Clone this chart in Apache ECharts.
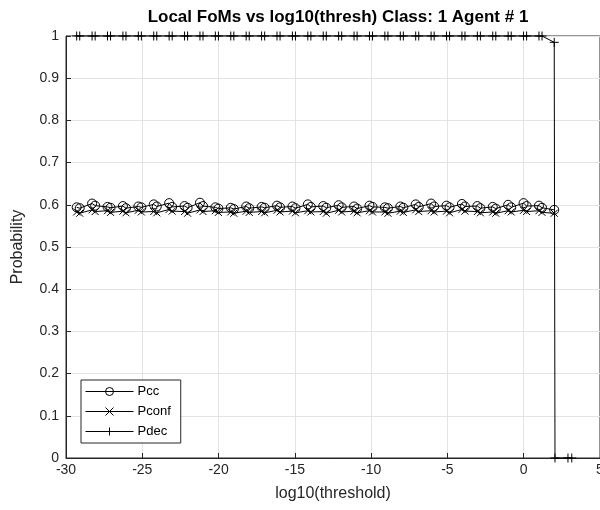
<!DOCTYPE html>
<html>
<head>
<meta charset="utf-8">
<script src="https://cdn.jsdelivr.net/npm/echarts@6/dist/echarts.min.js"></script>
<style>html,body{margin:0;padding:0;background:#fff}#c{width:600px;height:510px}</style>
</head>
<body>
<div id="c"></div>
<script>
var xVals = [-29.3,-29.1,-28.29,-28.09,-27.28,-27.08,-26.27,-26.07,-25.26,-25.06,
  -24.25,-24.05,-23.24,-23.04,-22.23,-22.03,-21.22,-21.02,-20.21,-20.01,
  -19.2,-19.0,-18.19,-17.99,-17.18,-16.98,-16.17,-15.97,-15.16,-14.96,
  -14.15,-13.95,-13.14,-12.94,-12.13,-11.93,-11.12,-10.92,-10.11,-9.91,
  -9.1,-8.9,-8.09,-7.89,-7.08,-6.88,-6.07,-5.87,-5.06,-4.86,
  -4.05,-3.85,-3.04,-2.84,-2.03,-1.83,-1.02,-0.82,-0.01,0.19,
  1.0,1.2,2.0];
var pccVals = [0.594,0.592,0.603,0.598,0.595,0.593,0.597,0.592,0.596,0.594,
  0.601,0.596,0.604,0.595,0.597,0.593,0.605,0.597,0.594,0.591,
  0.593,0.590,0.596,0.592,0.595,0.593,0.598,0.594,0.596,0.592,
  0.601,0.595,0.597,0.593,0.599,0.594,0.596,0.591,0.598,0.595,
  0.594,0.592,0.596,0.593,0.601,0.595,0.603,0.596,0.598,0.594,
  0.602,0.596,0.597,0.592,0.595,0.591,0.600,0.594,0.604,0.597,
  0.598,0.593,0.588];
var pconfVals = [0.583,0.580,0.588,0.584,0.586,0.582,0.585,0.581,0.587,0.583,
  0.584,0.581,0.589,0.585,0.584,0.580,0.588,0.584,0.586,0.582,
  0.583,0.580,0.585,0.582,0.584,0.581,0.587,0.583,0.585,0.581,
  0.586,0.583,0.584,0.580,0.587,0.583,0.585,0.581,0.586,0.583,
  0.583,0.580,0.585,0.582,0.588,0.584,0.586,0.583,0.585,0.581,
  0.589,0.585,0.584,0.581,0.583,0.580,0.586,0.583,0.587,0.584,
  0.586,0.582,0.580];
var pdecX = [-29.3,-29.1,-28.29,-28.09,-27.28,-27.08,-26.27,-26.07,-25.26,-25.06,
  -24.25,-24.05,-23.24,-23.04,-22.23,-22.03,-21.22,-21.02,-20.21,-20.01,
  -19.2,-19.0,-18.19,-17.99,-17.18,-16.98,-16.17,-15.97,-15.16,-14.96,
  -14.15,-13.95,-13.14,-12.94,-12.13,-11.93,-11.12,-10.92,-10.11,-9.91,
  -9.1,-8.9,-8.09,-7.89,-7.08,-6.88,-6.07,-5.87,-5.06,-4.86,
  -4.05,-3.85,-3.04,-2.84,-2.03,-1.83,-1.02,-0.82,-0.01,0.19,
  1.0,1.2,2.0,2.05,2.9,3.15];
var pdecVals = [1,1,1,1,1,1,1,1,1,1, 1,1,1,1,1,1,1,1,1,1,
  1,1,1,1,1,1,1,1,1,1, 1,1,1,1,1,1,1,1,1,1,
  1,1,1,1,1,1,1,1,1,1, 1,1,1,1,1,1,1,1,1,1,
  1,1,0.985,0,0,0];
var seriesNames = ['Pcc','Pconf','Pdec'];
var xTicks = [-30,-25,-20,-15,-10,-5,0,5];
var yTicks = [0,0.1,0.2,0.3,0.4,0.5,0.6,0.7,0.8,0.9,1];

function pairs(xs, ys){ return ys.map(function(y,i){ return [xs[i], y]; }); }

var chart = echarts.init(document.getElementById('c'));
var FONT = 'Liberation Sans, Arial, Helvetica, sans-serif';
var axisCol = '#262626';
var symX = 'path://M0,0L10,10M10,0L0,10';
var symPlus = 'path://M5,0L5,10M0,5L10,5';
chart.setOption({
  animation: false,
  backgroundColor: '#fff',
  title: {
    text: 'Local FoMs vs log10(thresh) Class: 1 Agent # 1',
    left: 333, top: 4, textAlign: 'center',
    textStyle: {fontFamily: FONT, fontSize: 17, fontWeight: 'bold', color: '#000'}
  },
  grid: {left: 66, right: 0, top: 36, bottom: 52, outerBoundsMode: 'none', containLabel: false,
    show: true, borderColor: axisCol, borderWidth: 1, backgroundColor: 'transparent'},
  xAxis: {
    type: 'value', min: xTicks[0], max: xTicks[xTicks.length-1], interval: 5,
    name: 'log10(threshold)', nameLocation: 'middle', nameGap: 28,
    nameTextStyle: {fontFamily: FONT, fontSize: 16, color: axisCol},
    axisLine: {show: true, onZero: false, lineStyle: {color: axisCol}},
    axisTick: {show: true, inside: true, length: 5, lineStyle: {color: axisCol}},
    axisLabel: {fontFamily: FONT, fontSize: 14, color: axisCol, margin: 5},
    splitLine: {show: true, lineStyle: {color: '#e3e3e3'}}
  },
  yAxis: {
    type: 'value', min: yTicks[0], max: yTicks[yTicks.length-1], interval: 0.1,
    name: 'Probability', nameLocation: 'middle', nameGap: 40,
    nameTextStyle: {fontFamily: FONT, fontSize: 16, color: axisCol},
    axisLine: {show: true, onZero: false, lineStyle: {color: axisCol}},
    axisTick: {show: true, inside: true, length: 5, lineStyle: {color: axisCol}},
    axisLabel: {fontFamily: FONT, fontSize: 14, color: axisCol, margin: 7,
      formatter: function(v){ return String(Math.round(v*10)/10); }},
    splitLine: {show: true, lineStyle: {color: '#e3e3e3'}}
  },
  legend: {
    data: seriesNames, orient: 'vertical', left: 81, top: 380,
    padding: [4, 10, 4, 4], itemWidth: 48, itemHeight: 10, itemGap: 5,
    borderColor: axisCol, borderWidth: 1, backgroundColor: '#fff',
    lineStyle: {width: 1},
    itemStyle: {borderWidth: 1},
    textStyle: {fontFamily: FONT, fontSize: 13, lineHeight: 15, color: '#000', padding: [0,0,0,-1]}
  },
  series: [
    {name: seriesNames[0], type: 'line', data: pairs(xVals, pccVals), symbol: 'circle', symbolSize: 9,
     showAllSymbol: true, clip: false, color: '#000',
     lineStyle: {color: '#000', width: 1},
     itemStyle: {color: 'rgba(0,0,0,0)', borderColor: '#000', borderWidth: 1}},
    {name: seriesNames[1], type: 'line', data: pairs(xVals, pconfVals), symbol: symX, symbolSize: 7,
     showAllSymbol: true, clip: false, color: '#000',
     lineStyle: {color: '#000', width: 1},
     itemStyle: {color: 'rgba(0,0,0,0)', borderColor: '#000', borderWidth: 1}},
    {name: seriesNames[2], type: 'line', data: pairs(pdecX, pdecVals), symbol: symPlus, symbolSize: 9,
     showAllSymbol: true, clip: false, color: '#000',
     lineStyle: {color: '#000', width: 1},
     itemStyle: {color: 'rgba(0,0,0,0)', borderColor: '#000', borderWidth: 1}}
  ]
});
</script>
</body>
</html>
